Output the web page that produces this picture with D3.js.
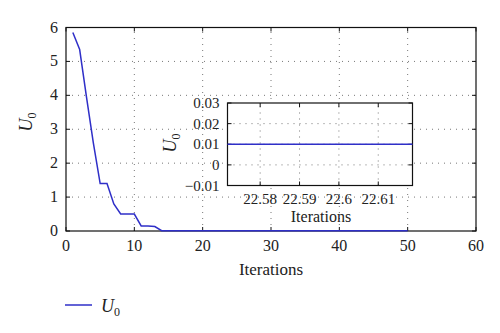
<!DOCTYPE html>
<html><head><meta charset="utf-8">
<script src="https://cdn.jsdelivr.net/npm/d3@7"></script>
<style>body{margin:0;background:#fff}svg{display:block}</style>
</head><body>
<script>
const iterations = [1,2,3,4,5,6,7,8,9,10,11,12,13,14,15,16,17,18,19,20,21,22,23,24,25,26,27,28,29,30,31,32,33,34,35,36,37,38,39,40,41,42,43,44,45,46,47,48,49,50];
const u0 = [5.85,5.35,3.95,2.6,1.4,1.4,0.8,0.5,0.5,0.5,0.15,0.15,0.13,0.01,0.01,0.01,0.01,0.01,0.01,0.01,0.01,0.01,0.01,0.01,0.01,0.01,0.01,0.01,0.01,0.01,0.01,0.01,0.01,0.01,0.01,0.01,0.01,0.01,0.01,0.01,0.01,0.01,0.01,0.01,0.01,0.01,0.01,0.01,0.01,0.01];
const xTicks = [0,10,20,30,40,50,60];
const yTicks = [0,1,2,3,4,5,6];
const insetIter = [22.57,22.58,22.59,22.60,22.61,22.62];
const insetU0 = [0.01,0.01,0.01,0.01,0.01,0.01];
const insetXTicks = [22.58,22.59,22.60,22.61];
const insetXLabels = ["22.58","22.59","22.6","22.61"];
const insetYTicks = [-0.01,0,0.01,0.02,0.03];
const insetYLabels = ["\u22120.01","0","0.01","0.02","0.03"];
const xLabel = "Iterations";

const W=500,H=333, lineColor="#2f2fc8";
const FONT="'Liberation Serif'";
const svg=d3.select("body").append("svg").attr("width",W).attr("height",H);

function txt(g){ return g.append("text").style("font-family",FONT).attr("fill","#222"); }

function panel(g, x, y, xt, yt, xfmt, yfmt, gridX, gridY, fs, xoff){
  const [x0,x1]=x.range(), [y0,y1]=y.range();
  g.append("rect").attr("x",x0).attr("y",y1).attr("width",x1-x0).attr("height",y0-y1).attr("fill","#fff");
  const grid=g.append("g").attr("stroke","#777").attr("stroke-width",1).attr("stroke-dasharray","1,5");
  gridX.forEach(v=>grid.append("line").attr("x1",x(v)).attr("x2",x(v)).attr("y1",y0).attr("y2",y1));
  gridY.forEach(v=>grid.append("line").attr("x1",x0).attr("x2",x1).attr("y1",y(v)).attr("y2",y(v)));
  const tl=4;
  const ax=g.append("g").attr("stroke","#111").attr("stroke-width",1);
  xt.forEach(v=>{ax.append("line").attr("x1",x(v)).attr("x2",x(v)).attr("y1",y0).attr("y2",y0-tl);
                 ax.append("line").attr("x1",x(v)).attr("x2",x(v)).attr("y1",y1).attr("y2",y1+tl);});
  yt.forEach(v=>{ax.append("line").attr("x1",x0).attr("x2",x0+tl).attr("y1",y(v)).attr("y2",y(v));
                 ax.append("line").attr("x1",x1).attr("x2",x1-tl).attr("y1",y(v)).attr("y2",y(v));});
  g.append("rect").attr("x",x0).attr("y",y1).attr("width",x1-x0).attr("height",y0-y1).attr("fill","none").attr("stroke","#111").attr("stroke-width",1.2);
  xt.forEach((v,i)=>txt(g).attr("x",x(v)).attr("y",y0+xoff).attr("text-anchor","middle").attr("font-size",fs).text(xfmt(v,i)));
  yt.forEach((v,i)=>txt(g).attr("x",x0-8).attr("y",y(v)+5).attr("text-anchor","end").attr("font-size",fs).text(yfmt(v,i)));
}

// main
const x=d3.scaleLinear().domain([0,60]).range([66,476]);
const y=d3.scaleLinear().domain([0,6]).range([231,27.5]);
const gm=svg.append("g");
panel(gm,x,y,xTicks,yTicks,v=>v,v=>v,[10,20,30,40,50],[1,2,3,4,5],16,20);
const line=d3.line().x((d,i)=>x(iterations[i])).y(d=>y(d));
gm.append("path").datum(u0).attr("d",line).attr("fill","none").attr("stroke",lineColor).attr("stroke-width",1.5);
txt(gm).attr("x",271).attr("y",275).attr("text-anchor","middle").attr("font-size",17).text(xLabel);
const yl=txt(gm).attr("transform","translate(32,122) rotate(-90)").attr("text-anchor","middle").attr("font-size",18);
yl.append("tspan").attr("font-style","italic").text("U");
yl.append("tspan").attr("font-size",12).attr("dy",4).text("0");

// inset
const xi=d3.scaleLinear().domain([22.5717,22.6187]).range([227.5,412.5]);
const yi=d3.scaleLinear().domain([-0.01,0.03]).range([185.5,103]);
const gi=svg.append("g");
panel(gi,xi,yi,insetXTicks,insetYTicks,(v,i)=>insetXLabels[i],(v,i)=>insetYLabels[i],insetXTicks,[0,0.01,0.02],15,18);
gi.append("clipPath").attr("id","ic").append("rect").attr("x",227.5).attr("y",103).attr("width",185).attr("height",82.5);
const iline=d3.line().x((d,i)=>xi(insetIter[i])).y(d=>yi(d));
gi.append("path").datum(insetU0).attr("d",iline).attr("clip-path","url(#ic)").attr("fill","none").attr("stroke",lineColor).attr("stroke-width",1.3);
txt(gi).attr("x",321).attr("y",222).attr("text-anchor","middle").attr("font-size",16).text(xLabel);
const yli=txt(gi).attr("transform","translate(176,143) rotate(-90)").attr("text-anchor","middle").attr("font-size",18);
yli.append("tspan").attr("font-style","italic").text("U");
yli.append("tspan").attr("font-size",12).attr("dy",4).text("0");

// legend
const lg=svg.append("g");
lg.append("line").attr("x1",65).attr("x2",92).attr("y1",305).attr("y2",305).attr("stroke",lineColor).attr("stroke-width",1.5);
const lt=txt(lg).attr("x",101).attr("y",312).attr("font-size",18);
lt.append("tspan").attr("font-style","italic").text("U");
lt.append("tspan").attr("font-size",12).attr("dy",4).text("0");
</script>
</body></html>
